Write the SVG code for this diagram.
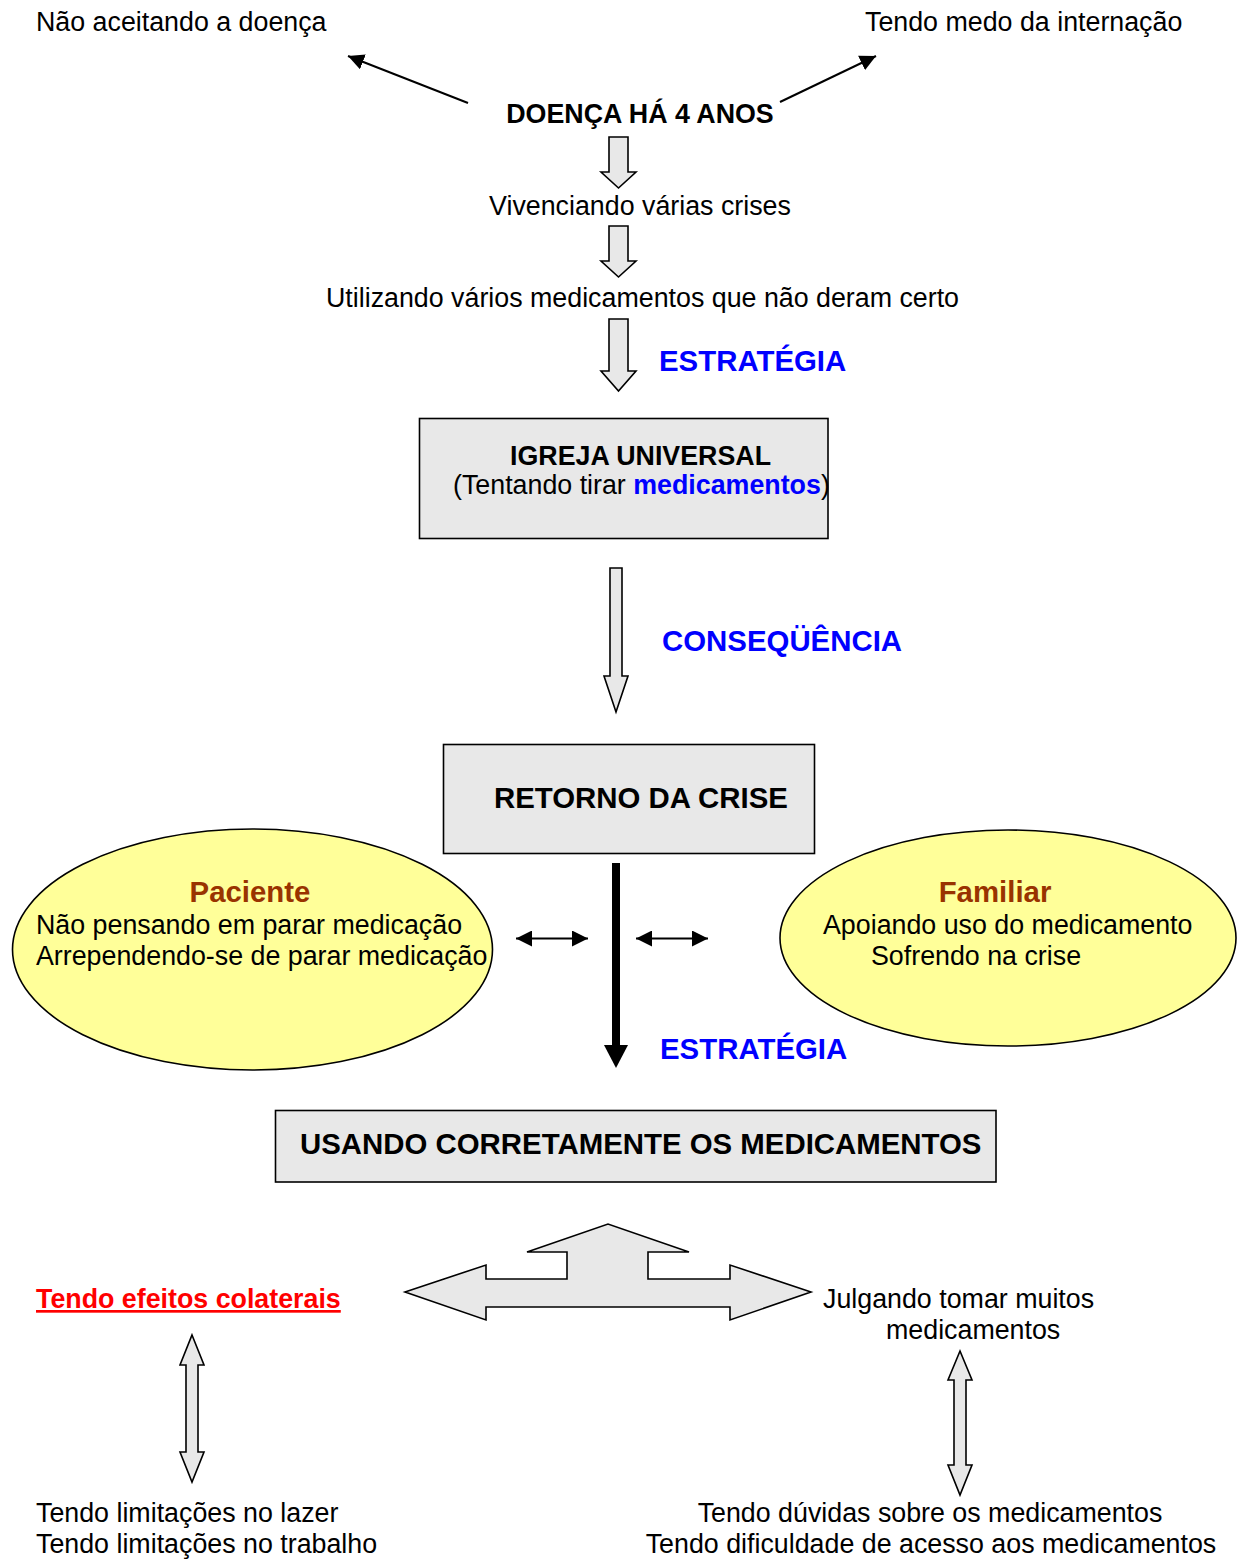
<svg xmlns="http://www.w3.org/2000/svg" width="1237" height="1560" viewBox="0 0 1237 1560">
<defs>
<style>
text{font-family:"Liberation Sans",Arial,sans-serif;font-size:26.8px;fill:#000}
.b{font-weight:bold}
.big{font-size:29.4px;font-weight:bold}
.blue{fill:#0000ff}
.brown{fill:#993300}
.red{fill:#ff0000}
.box{fill:#e8e8e8;stroke:#000;stroke-width:1.6}
.hol{fill:#e8e8e8;stroke:#000;stroke-width:1.6;stroke-linejoin:miter}
.ell{fill:#ffff99;stroke:#000;stroke-width:1.6}
.thin{stroke:#000;stroke-width:2;fill:none}
</style>
<marker id="ah2" viewBox="0 0 16 16" refX="16" refY="8" markerWidth="16" markerHeight="16" markerUnits="userSpaceOnUse" orient="auto-start-reverse">
<path d="M0,0 L16,8 L0,16 Z" fill="#000"/>
</marker>
</defs>
<rect width="1237" height="1560" fill="#fff"/>

<g id="connectors">
<path class="thin" d="M468,103 L348,56" marker-end="url(#ah2)"/>
<path class="thin" d="M780,102 L876,56" marker-end="url(#ah2)"/>
<polygon class="hol" points="609,137 628,137 628,172 636,172 618.5,188 601,172 609,172"/>
<polygon class="hol" points="609,226 628,226 628,261 636,261 618.5,277 601,261 609,261"/>
<polygon class="hol" points="609,319 628,319 628,371 636,371 618.5,391 601,371 609,371"/>
<polygon class="hol" points="610,568 622,568 622,676 628,676 616,712 604,676 610,676"/>
<rect x="612" y="863" width="8" height="183" fill="#000"/>
<polygon points="604,1045 628,1045 616,1068" fill="#000"/>
<path class="thin" d="M516,938.5 L588,938.5" marker-start="url(#ah2)" marker-end="url(#ah2)"/>
<path class="thin" d="M636,938.5 L708,938.5" marker-start="url(#ah2)" marker-end="url(#ah2)"/>
<polygon class="hol" points="405,1292 486,1265 486,1279 567,1279 567,1252 527,1252 608,1224 689,1252 648,1252 648,1279 730,1279 730,1265 811,1292 730,1320 730,1307 486,1307 486,1320"/>
<polygon class="hol" points="192,1335 204,1365 198,1365 198,1452 204,1452 192,1482 180,1452 186,1452 186,1365 180,1365"/>
<polygon class="hol" points="960,1351 972,1380 966,1380 966,1465 972,1465 960,1495 948,1465 954,1465 954,1380 948,1380"/>
</g>

<g id="n-naoaceitando"><text x="36" y="31">Não aceitando a doença</text></g>
<g id="n-medo"><text x="865" y="31">Tendo medo da internação</text></g>
<g id="n-doenca"><text x="640" y="123" text-anchor="middle" class="b">DOENÇA HÁ 4 ANOS</text></g>
<g id="n-vivenciando"><text x="640" y="215" text-anchor="middle">Vivenciando várias crises</text></g>
<g id="n-utilizando"><text x="326" y="307">Utilizando vários medicamentos que não deram certo</text></g>
<g id="l-estrategia1"><text x="659" y="371" class="big blue">ESTRATÉGIA</text></g>

<g id="n-igreja">
<rect class="box" x="419.5" y="418.5" width="408.5" height="120"/>
<text x="510" y="465" class="b">IGREJA UNIVERSAL</text>
<text x="453" y="494">(Tentando tirar <tspan class="b blue">medicamentos</tspan>)</text>
</g>

<g id="l-consequencia"><text x="662" y="651" class="big blue">CONSEQÜÊNCIA</text></g>

<g id="n-retorno">
<rect class="box" x="443.5" y="744.5" width="371" height="109"/>
<text x="494" y="808" class="big">RETORNO DA CRISE</text>
</g>

<g id="n-paciente">
<ellipse class="ell" cx="252.5" cy="949.5" rx="240" ry="120.5"/>
<text x="250" y="902" text-anchor="middle" class="big brown">Paciente</text>
<text x="36" y="934">Não pensando em parar medicação</text>
<text x="36" y="965">Arrependendo-se de parar medicação</text>
</g>

<g id="n-familiar">
<ellipse class="ell" cx="1008" cy="938" rx="228" ry="108"/>
<text x="995" y="902" text-anchor="middle" class="big brown">Familiar</text>
<text x="823" y="934">Apoiando uso do medicamento</text>
<text x="871" y="965">Sofrendo na crise</text>
</g>

<g id="l-estrategia2"><text x="660" y="1059" class="big blue">ESTRATÉGIA</text></g>

<g id="n-usando">
<rect class="box" x="275.5" y="1110.5" width="720.5" height="71.5"/>
<text x="300" y="1154" class="big">USANDO CORRETAMENTE OS MEDICAMENTOS</text>
</g>

<g id="n-efeitos"><text x="36" y="1308" class="b red" text-decoration="underline">Tendo efeitos colaterais</text></g>
<g id="n-julgando">
<text x="823" y="1308">Julgando tomar muitos</text>
<text x="886" y="1339">medicamentos</text>
</g>
<g id="n-limitacoes">
<text x="36" y="1522">Tendo limitações no lazer</text>
<text x="36" y="1553">Tendo limitações no trabalho</text>
</g>
<g id="n-duvidas">
<text x="930" y="1522" text-anchor="middle">Tendo dúvidas sobre os medicamentos</text>
<text x="931" y="1553" text-anchor="middle">Tendo dificuldade de acesso aos medicamentos</text>
</g>
</svg>
